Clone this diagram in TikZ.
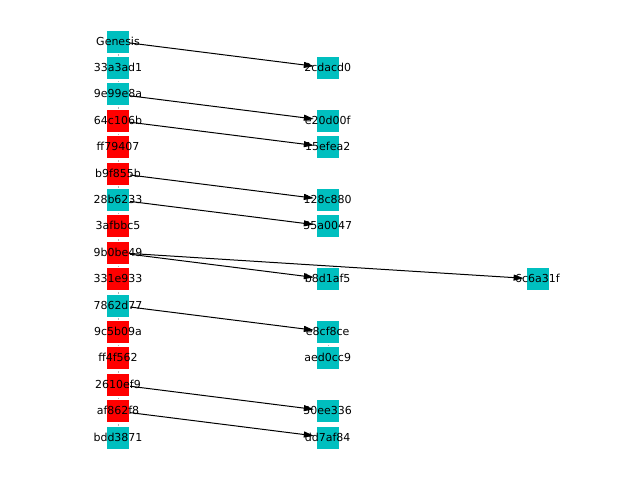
\documentclass[tikz,border=0pt]{standalone}
\usepackage{fontspec}
\setmainfont{DejaVu Sans}
\usepackage{tikz}
\usetikzlibrary{arrows.meta}
\usetikzlibrary{backgrounds}
\definecolor{okc}{RGB}{0,191,191}
\definecolor{badc}{RGB}{255,0,0}
\newcommand{\hsh}[1]{\makebox[0pt]{#1}}
\tikzset{
 blk/.style={rectangle, minimum size=23pt, inner sep=0pt, draw=white, line width=0.8pt, font=\fontsize{11}{13}\selectfont},
 ok/.style={blk, fill=okc},
 bad/.style={blk, fill=badc},
 link/.style={-{Triangle[length=10pt,width=6pt]}, line width=1pt, shorten >=2pt},
 chain/.style={line width=0.4pt, black!30, shorten <=1pt}
}

\begin{document}
\begin{tikzpicture} [x=1pt,y=-1pt]
\useasboundingbox (0,0) rectangle (640,480);
\foreach \i/\t/\c in {0/Genesis/ok, 1/33a3ad1/ok, 2/9e99e8a/ok, 3/64c106b/bad, 4/ff79407/bad, 5/b9f855b/bad, 6/28b6233/ok, 7/3afbbc5/bad, 8/9b0be49/bad, 9/331e933/bad, 10/7862d77/ok, 11/9c5b09a/bad, 12/ff4f562/bad, 13/2610ef9/bad, 14/af862f8/bad, 15/bdd3871/ok} {
 \node[\c, text depth=1pt] (l\i) at (118,{41.5+26.4*\i}) {\hsh{\t}};
}
\foreach \i/\t in {1/2cdacd0, 3/e20d00f, 4/15efea2, 6/128c880, 7/55a0047, 9/b8d1af5, 11/e8cf8ce, 12/aed0cc9, 14/50ee336, 15/dd7af84} {
 \node[ok, text depth=1pt] (r\i) at (327.7,{41.5+26.4*\i}) {\hsh{\t}};
}
\node[ok, text depth=1pt] (f9) at (537.5,{41.5+26.4*9}) {\hsh{6c6a31f}};
\begin{scope}[on background layer]
\foreach \a [count=\b from 1] in {0,...,14} {
 \draw[chain] (l\a) -- (l\b);
}
\draw[chain] (r11) -- (r12);
\foreach \a/\b in {l0/r1, l2/r3, l3/r4, l5/r6, l6/r7, l8/r9, l8/f9, l10/r11, l13/r14, l14/r15} {
 \draw[link] (\a) -- (\b);
}
\end{scope}
\end{tikzpicture}
\end{document}
